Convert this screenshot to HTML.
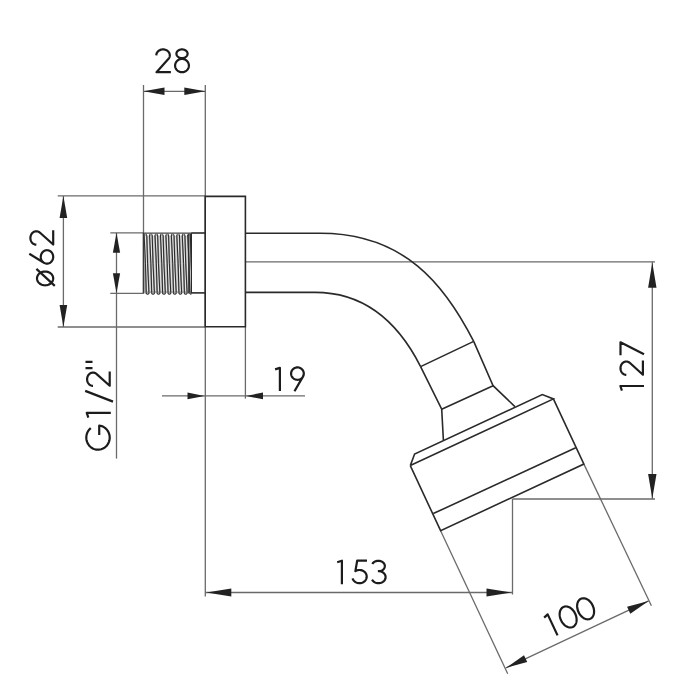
<!DOCTYPE html>
<html><head><meta charset="utf-8"><style>
html,body{margin:0;padding:0;background:#fff;width:700px;height:700px;overflow:hidden}
svg{display:block;filter:grayscale(1)}
</style></head><body>
<svg width="700" height="700" viewBox="0 0 700 700">
<rect width="700" height="700" fill="#fff"/>
<line x1="143.50" y1="85.00" x2="143.50" y2="233.00" stroke="#6a6a6a" stroke-width="1.3"/>
<line x1="205.30" y1="85.00" x2="205.30" y2="596.50" stroke="#6a6a6a" stroke-width="1.3"/>
<line x1="143.50" y1="91.30" x2="205.30" y2="91.30" stroke="#6a6a6a" stroke-width="1.3"/>
<polygon points="143.50,91.30 164.50,87.60 164.50,95.00" fill="#222"/>
<polygon points="205.30,91.30 184.30,95.00 184.30,87.60" fill="#222"/>
<line x1="57.70" y1="195.90" x2="205.30" y2="195.90" stroke="#6a6a6a" stroke-width="1.3"/>
<line x1="57.70" y1="327.00" x2="205.30" y2="327.00" stroke="#6a6a6a" stroke-width="1.3"/>
<line x1="63.40" y1="195.90" x2="63.40" y2="327.00" stroke="#6a6a6a" stroke-width="1.3"/>
<polygon points="63.40,195.90 67.20,217.90 59.60,217.90" fill="#222"/>
<polygon points="63.40,327.00 59.60,305.00 67.20,305.00" fill="#222"/>
<line x1="110.30" y1="232.80" x2="143.50" y2="232.80" stroke="#6a6a6a" stroke-width="1.3"/>
<line x1="110.30" y1="293.30" x2="143.50" y2="293.30" stroke="#6a6a6a" stroke-width="1.3"/>
<line x1="116.50" y1="232.80" x2="116.50" y2="458.60" stroke="#6a6a6a" stroke-width="1.3"/>
<polygon points="116.50,232.80 120.10,252.80 112.90,252.80" fill="#222"/>
<polygon points="116.50,293.30 112.90,273.30 120.10,273.30" fill="#222"/>
<line x1="245.40" y1="327.00" x2="245.40" y2="398.60" stroke="#6a6a6a" stroke-width="1.3"/>
<line x1="162.00" y1="395.90" x2="305.00" y2="395.90" stroke="#6a6a6a" stroke-width="1.3"/>
<polygon points="204.50,395.90 187.50,399.30 187.50,392.50" fill="#222"/>
<polygon points="246.00,395.90 263.00,392.50 263.00,399.30" fill="#222"/>
<line x1="245.40" y1="261.80" x2="655.00" y2="261.80" stroke="#6a6a6a" stroke-width="1.3"/>
<line x1="512.50" y1="499.00" x2="655.00" y2="499.00" stroke="#6a6a6a" stroke-width="1.3"/>
<line x1="652.30" y1="261.80" x2="652.30" y2="499.00" stroke="#6a6a6a" stroke-width="1.3"/>
<polygon points="652.30,262.80 656.50,287.80 648.10,287.80" fill="#222"/>
<polygon points="652.30,498.40 648.10,473.90 656.50,473.90" fill="#222"/>
<line x1="512.50" y1="499.00" x2="512.50" y2="594.50" stroke="#6a6a6a" stroke-width="1.3"/>
<line x1="205.30" y1="592.50" x2="512.50" y2="592.50" stroke="#6a6a6a" stroke-width="1.3"/>
<polygon points="206.30,592.50 231.30,588.50 231.30,596.50" fill="#222"/>
<polygon points="511.50,592.50 486.50,596.50 486.50,588.50" fill="#222"/>
<line x1="440.60" y1="530.70" x2="507.70" y2="673.70" stroke="#6a6a6a" stroke-width="1.3"/>
<line x1="583.90" y1="464.10" x2="651.40" y2="605.70" stroke="#6a6a6a" stroke-width="1.3"/>
<line x1="505.70" y1="668.00" x2="648.60" y2="600.90" stroke="#6a6a6a" stroke-width="1.3"/>
<polygon points="505.70,668.00 524.00,655.21 527.23,662.09" fill="#222"/>
<polygon points="648.60,600.90 630.30,613.69 627.07,606.81" fill="#222"/>
<polygon points="205.20,196.40 245.40,196.40 245.40,326.80 205.20,326.80" fill="none" stroke="#2a2a2a" stroke-width="1.6" stroke-linejoin="miter"/>
<defs><clipPath id="thc"><rect x="143.3" y="231.8" width="48.10" height="64.60"/></clipPath></defs><g clip-path="url(#thc)">
<rect x="143.3" y="232.8" width="48.10" height="60.60" fill="#a2a2a2"/>
<path d="M145.40,235.80 Q146.50,263.10 147.60,291.40 M148.12,236.30 L150.32,291.40 M150.85,235.80 Q151.95,263.10 153.05,291.40 M153.57,236.30 L155.77,291.40 M156.30,235.80 Q157.40,263.10 158.50,291.40 M159.03,236.30 L161.22,291.40 M161.75,235.80 Q162.85,263.10 163.95,291.40 M164.47,236.30 L166.67,291.40 M167.20,235.80 Q168.30,263.10 169.40,291.40 M169.93,236.30 L172.12,291.40 M172.65,235.80 Q173.75,263.10 174.85,291.40 M175.38,236.30 L177.57,291.40 M178.10,235.80 Q179.20,263.10 180.30,291.40 M180.83,236.30 L183.03,291.40 M183.55,235.80 Q184.65,263.10 185.75,291.40 M186.28,236.30 L188.47,291.40 M189.00,235.80 Q190.10,263.10 191.20,291.40" fill="none" stroke="#f2f2f2" stroke-width="0.9"/>
<path d="M144.05,234.00 Q145.76,263.10 146.25,292.80 M146.75,234.00 Q147.24,263.10 148.95,292.80 M149.50,234.00 Q151.21,263.10 151.70,292.80 M152.20,234.00 Q152.69,263.10 154.40,292.80 M154.95,234.00 Q156.66,263.10 157.15,292.80 M157.65,234.00 Q158.14,263.10 159.85,292.80 M160.40,234.00 Q162.11,263.10 162.60,292.80 M163.10,234.00 Q163.59,263.10 165.30,292.80 M165.85,234.00 Q167.56,263.10 168.05,292.80 M168.55,234.00 Q169.04,263.10 170.75,292.80 M171.30,234.00 Q173.01,263.10 173.50,292.80 M174.00,234.00 Q174.49,263.10 176.20,292.80 M176.75,234.00 Q178.46,263.10 178.95,292.80 M179.45,234.00 Q179.94,263.10 181.65,292.80 M182.20,234.00 Q183.91,263.10 184.40,292.80 M184.90,234.00 Q185.39,263.10 187.10,292.80 M187.65,234.00 Q189.36,263.10 189.85,292.80 M190.35,234.00 Q190.84,263.10 192.55,292.80" fill="none" stroke="#2a2a2a" stroke-width="1.0"/>
<path d="M146.30,233.60 L149.95,233.60 L148.12,236.60 Z M148.80,294.29999999999995 Q150.32,291.00 151.85,294.29999999999995 Z M151.75,233.60 L155.40,233.60 L153.57,236.60 Z M154.25,294.29999999999995 Q155.77,291.00 157.30,294.29999999999995 Z M157.20,233.60 L160.85,233.60 L159.03,236.60 Z M159.70,294.29999999999995 Q161.22,291.00 162.75,294.29999999999995 Z M162.65,233.60 L166.30,233.60 L164.47,236.60 Z M165.15,294.29999999999995 Q166.67,291.00 168.20,294.29999999999995 Z M168.10,233.60 L171.75,233.60 L169.93,236.60 Z M170.60,294.29999999999995 Q172.12,291.00 173.65,294.29999999999995 Z M173.55,233.60 L177.20,233.60 L175.38,236.60 Z M176.05,294.29999999999995 Q177.57,291.00 179.10,294.29999999999995 Z M179.00,233.60 L182.65,233.60 L180.83,236.60 Z M181.50,294.29999999999995 Q183.03,291.00 184.55,294.29999999999995 Z M184.45,233.60 L188.10,233.60 L186.28,236.60 Z M186.95,294.29999999999995 Q188.47,291.00 190.00,294.29999999999995 Z" fill="#fff" stroke="none"/>
<path d="M146.00,293.00 Q147.60,295.60 149.20,293.00 M151.45,293.00 Q153.05,295.60 154.65,293.00 M156.90,293.00 Q158.50,295.60 160.10,293.00 M162.35,293.00 Q163.95,295.60 165.55,293.00 M167.80,293.00 Q169.40,295.60 171.00,293.00 M173.25,293.00 Q174.85,295.60 176.45,293.00 M178.70,293.00 Q180.30,295.60 181.90,293.00 M184.15,293.00 Q185.75,295.60 187.35,293.00 M189.60,293.00 Q191.20,295.60 192.80,293.00" fill="none" stroke="#2a2a2a" stroke-width="1.1"/>
</g>
<path d="M143.3,232.8 L143.3,293.4 M188.80,233.8 L188.80,293.4 M191.4,232.8 L191.4,293.4" fill="none" stroke="#2a2a2a" stroke-width="1.2"/>
<path d="M143.3,233.10 L191.4,233.10" fill="none" stroke="#3a3a3a" stroke-width="1.0"/>
<line x1="191.40" y1="233.00" x2="205.30" y2="233.00" stroke="#2a2a2a" stroke-width="1.6"/>
<line x1="191.40" y1="292.90" x2="205.30" y2="292.90" stroke="#2a2a2a" stroke-width="1.6"/>
<path d="M245.4,233.3 L319.95,233.3 C404.46,233.3 444.75,284.61 473.7,341.4" fill="none" stroke="#2a2a2a" stroke-width="1.6"/>
<path d="M245.4,292.4 L315.1,292.4 C354.68,292.4 392.23,310.63 420.6,366.6" fill="none" stroke="#2a2a2a" stroke-width="1.6"/>
<polyline points="420.60,366.60 473.70,341.40" fill="none" stroke="#2a2a2a" stroke-width="1.6" stroke-linejoin="miter"/>
<polyline points="420.60,366.60 441.70,409.20 443.40,440.20" fill="none" stroke="#2a2a2a" stroke-width="1.6" stroke-linejoin="miter"/>
<polyline points="473.70,341.40 493.10,385.70 514.90,406.60" fill="none" stroke="#2a2a2a" stroke-width="1.6" stroke-linejoin="miter"/>
<polyline points="441.70,409.20 493.10,385.70" fill="none" stroke="#2a2a2a" stroke-width="1.6" stroke-linejoin="miter"/>
<polyline points="410.30,465.60 414.60,454.00 542.30,394.60 553.40,398.90 410.30,465.60" fill="none" stroke="#2a2a2a" stroke-width="1.6" stroke-linejoin="miter"/>
<polyline points="553.40,398.90 583.90,464.10 440.60,530.70 410.30,465.60" fill="none" stroke="#2a2a2a" stroke-width="1.6" stroke-linejoin="miter"/>
<polyline points="433.30,513.60 575.70,447.70" fill="none" stroke="#2a2a2a" stroke-width="1.6" stroke-linejoin="miter"/>
<path d="M156.30,55.33 L156.34,54.70 L156.45,54.08 L156.64,53.47 L156.90,52.89 L157.23,52.33 L157.62,51.80 L158.08,51.32 L158.59,50.88 L159.15,50.49 L159.76,50.15 L160.40,49.87 L161.08,49.66 L161.77,49.51 L162.48,49.42 L163.20,49.40 L163.91,49.45 L164.62,49.56 L165.30,49.74 L165.96,49.98 L166.59,50.28 L167.18,50.64 L167.72,51.05 L168.21,51.51 L168.65,52.01 L169.01,52.55 L169.32,53.12 L169.55,53.72 L169.70,54.33 L169.79,54.96 L169.79,55.59 L169.72,56.21 L169.58,56.83 L169.36,57.43 L169.07,58.00 L168.72,58.55 L168.30,59.06 L156.50,72.20 L170.90,72.20 M187.59,53.73 L187.56,54.18 L187.47,54.63 L187.32,55.07 L187.11,55.49 L186.84,55.90 L186.52,56.28 L186.15,56.63 L185.74,56.95 L185.29,57.24 L184.79,57.48 L184.27,57.69 L183.73,57.85 L183.16,57.97 L182.58,58.04 L182.00,58.06 L181.42,58.04 L180.84,57.97 L180.27,57.85 L179.73,57.69 L179.21,57.48 L178.71,57.24 L178.26,56.95 L177.85,56.63 L177.48,56.28 L177.16,55.90 L176.89,55.49 L176.68,55.07 L176.53,54.63 L176.44,54.18 L176.41,53.73 L176.44,53.28 L176.53,52.83 L176.68,52.39 L176.89,51.97 L177.16,51.57 L177.48,51.19 L177.85,50.83 L178.26,50.51 L178.71,50.23 L179.21,49.98 L179.73,49.77 L180.27,49.61 L180.84,49.49 L181.42,49.42 L182.00,49.40 L182.58,49.42 L183.16,49.49 L183.73,49.61 L184.27,49.77 L184.79,49.98 L185.29,50.23 L185.74,50.51 L186.15,50.83 L186.52,51.19 L186.84,51.57 L187.11,51.97 L187.32,52.39 L187.47,52.83 L187.56,53.28 L187.59,53.73 Z M188.90,65.59 L188.86,66.28 L188.75,66.96 L188.56,67.63 L188.30,68.28 L187.98,68.89 L187.58,69.47 L187.13,70.01 L186.62,70.50 L186.06,70.94 L185.45,71.31 L184.81,71.63 L184.13,71.88 L183.43,72.06 L182.72,72.16 L182.00,72.20 L181.28,72.16 L180.57,72.06 L179.87,71.88 L179.19,71.63 L178.55,71.31 L177.94,70.94 L177.38,70.50 L176.87,70.01 L176.42,69.47 L176.02,68.89 L175.70,68.28 L175.44,67.63 L175.25,66.96 L175.14,66.28 L175.10,65.59 L175.14,64.90 L175.25,64.21 L175.44,63.54 L175.70,62.90 L176.02,62.28 L176.42,61.70 L176.87,61.16 L177.38,60.67 L177.94,60.24 L178.55,59.86 L179.19,59.55 L179.87,59.30 L180.57,59.12 L181.28,59.01 L182.00,58.98 L182.72,59.01 L183.43,59.12 L184.13,59.30 L184.81,59.55 L185.45,59.86 L186.06,60.24 L186.62,60.67 L187.13,61.16 L187.58,61.70 L187.98,62.28 L188.30,62.90 L188.56,63.54 L188.75,64.21 L188.86,64.90 L188.90,65.59 Z " fill="none" stroke="#1c1c1c" stroke-width="2.2" stroke-linejoin="round" stroke-linecap="butt"/>
<path d="M275.10,369.38 L279.90,367.87 L279.90,391.10 M302.97,376.66 L302.62,377.21 L302.20,377.72 L301.73,378.18 L301.22,378.59 L300.67,378.95 L300.08,379.25 L299.46,379.49 L298.82,379.66 L298.16,379.76 L297.50,379.80 L296.83,379.77 L296.18,379.68 L295.53,379.51 L294.91,379.29 L294.32,379.00 L293.76,378.65 L293.24,378.24 L292.76,377.79 L292.34,377.28 L291.97,376.74 L291.67,376.17 L291.43,375.56 L291.25,374.94 L291.14,374.30 L291.10,373.65 L291.13,373.00 L291.23,372.36 L291.40,371.73 L291.63,371.12 L291.93,370.54 L292.28,369.99 L292.70,369.49 L293.17,369.02 L293.68,368.61 L294.23,368.25 L294.82,367.96 L295.44,367.72 L296.08,367.55 L296.74,367.44 L297.40,367.40 L298.07,367.43 L298.72,367.53 L299.37,367.69 L299.99,367.92 L300.58,368.21 L301.14,368.56 L301.66,368.96 L302.14,369.42 L302.56,369.92 L302.93,370.46 L303.23,371.04 L303.47,371.64 L303.65,372.27 L303.76,372.91 L303.80,373.55 L303.77,374.20 L303.67,374.85 L303.50,375.47 L303.27,376.08 L302.97,376.66 Z M302.97,376.66 L294.47,391.30 " fill="none" stroke="#1c1c1c" stroke-width="2.2" stroke-linejoin="round" stroke-linecap="butt"/>
<path d="M337.20,562.22 L341.90,560.67 L341.90,584.30 M366.97,560.70 L357.18,560.70 L355.37,571.18 L355.37,571.18 L356.01,570.81 L356.70,570.51 L357.41,570.27 L358.15,570.10 L358.90,570.01 L359.66,569.99 L360.41,570.04 L361.16,570.17 L361.89,570.36 L362.59,570.63 L363.26,570.96 L363.88,571.35 L364.46,571.80 L364.98,572.31 L365.44,572.86 L365.84,573.46 L366.16,574.09 L366.41,574.74 L366.59,575.42 L366.68,576.11 L366.70,576.81 L366.63,577.50 L366.49,578.19 L366.27,578.85 L365.97,579.49 L365.60,580.10 L365.16,580.67 L364.66,581.20 L364.11,581.67 L363.50,582.09 L362.85,582.44 L362.16,582.73 L361.44,582.96 L360.70,583.11 L359.94,583.19 L359.19,583.19 L358.43,583.13 L357.69,582.99 L356.96,582.78 L356.27,582.50 L355.61,582.15 L354.99,581.75 L354.43,581.28 L353.92,580.77 L353.47,580.20 L353.09,579.60 L352.78,578.97 L352.55,578.30 M372.36,564.01 L372.66,563.51 L373.02,563.04 L373.45,562.60 L373.92,562.20 L374.45,561.85 L375.02,561.54 L375.63,561.28 L376.27,561.07 L376.93,560.93 L377.60,560.83 L378.29,560.80 L378.97,560.83 L379.65,560.91 L380.32,561.05 L380.96,561.25 L381.57,561.50 L382.15,561.80 L382.68,562.15 L383.17,562.54 L383.60,562.97 L383.97,563.44 L384.28,563.93 L384.53,564.45 L384.70,564.99 L384.81,565.54 L384.84,566.09 L384.80,566.65 L384.69,567.19 L384.51,567.73 L384.25,568.25 L383.94,568.74 L383.56,569.20 L383.12,569.63 L382.63,570.02 L382.09,570.36 L381.51,570.66 L380.90,570.90 L380.25,571.10 L379.59,571.23 L378.91,571.31 M377.87,571.13 L378.63,571.11 L379.38,571.15 L380.13,571.27 L380.85,571.45 L381.55,571.69 L382.21,572.00 L382.84,572.37 L383.41,572.79 L383.93,573.25 L384.38,573.77 L384.77,574.32 L385.09,574.90 L385.33,575.51 L385.50,576.14 L385.59,576.78 L385.59,577.42 L385.52,578.06 L385.37,578.69 L385.13,579.30 L384.83,579.89 L384.45,580.45 L384.00,580.97 L383.50,581.45 L382.93,581.87 L382.32,582.25 L381.66,582.57 L380.97,582.82 L380.24,583.01 L379.50,583.14 L378.75,583.20 L377.99,583.19 L377.24,583.11 L376.51,582.96 L375.79,582.75 L375.11,582.47 L374.46,582.14 L373.87,581.74 L373.32,581.30 L372.83,580.81 L372.41,580.28 L372.05,579.71 " fill="none" stroke="#1c1c1c" stroke-width="2.2" stroke-linejoin="round" stroke-linecap="butt"/>
<path transform="translate(619.2,391.0) rotate(-90)" d="M0.40,2.72 L5.00,1.17 L5.00,24.80 M16.10,7.12 L16.14,6.51 L16.25,5.90 L16.44,5.30 L16.70,4.72 L17.02,4.18 L17.41,3.66 L17.87,3.18 L18.38,2.75 L18.93,2.37 L19.53,2.04 L20.17,1.77 L20.84,1.55 L21.53,1.41 L22.24,1.32 L22.95,1.30 L23.66,1.35 L24.35,1.46 L25.04,1.63 L25.69,1.87 L26.32,2.17 L26.90,2.52 L27.44,2.92 L27.93,3.37 L28.35,3.87 L28.72,4.40 L29.02,4.96 L29.25,5.54 L29.40,6.15 L29.49,6.76 L29.49,7.38 L29.42,7.99 L29.28,8.60 L29.07,9.19 L28.78,9.75 L28.42,10.29 L28.01,10.79 L16.30,23.70 L30.60,23.70 M35.70,1.30 L48.70,1.30 L36.83,24.80 " fill="none" stroke="#1c1c1c" stroke-width="2.2" stroke-linejoin="round" stroke-linecap="butt"/>
<path transform="translate(29.3,288.4) rotate(-90)" d="M16.90,15.80 L16.86,16.65 L16.75,17.48 L16.56,18.30 L16.30,19.09 L15.98,19.85 L15.58,20.56 L15.13,21.22 L14.62,21.82 L14.06,22.35 L13.45,22.81 L12.81,23.20 L12.13,23.50 L11.43,23.72 L10.72,23.86 L10.00,23.90 L9.28,23.86 L8.57,23.72 L7.87,23.50 L7.19,23.20 L6.55,22.81 L5.94,22.35 L5.38,21.82 L4.87,21.22 L4.42,20.56 L4.02,19.85 L3.70,19.09 L3.44,18.30 L3.25,17.48 L3.14,16.65 L3.10,15.80 L3.14,14.95 L3.25,14.12 L3.44,13.30 L3.70,12.51 L4.02,11.75 L4.42,11.04 L4.87,10.38 L5.38,9.78 L5.94,9.25 L6.55,8.79 L7.19,8.40 L7.87,8.10 L8.57,7.88 L9.28,7.74 L10.00,7.70 L10.72,7.74 L11.43,7.88 L12.13,8.10 L12.81,8.40 L13.45,8.79 L14.06,9.25 L14.62,9.78 L15.13,10.38 L15.58,11.04 L15.98,11.75 L16.30,12.51 L16.56,13.30 L16.75,14.12 L16.86,14.95 L16.90,15.80 Z M25.67,14.64 L26.05,14.10 L26.48,13.59 L26.97,13.13 L27.51,12.71 L28.10,12.35 L28.72,12.06 L29.37,11.82 L30.05,11.64 L30.74,11.54 L31.44,11.50 L32.14,11.53 L32.84,11.62 L33.51,11.78 L34.17,12.01 L34.80,12.30 L35.39,12.65 L35.94,13.05 L36.44,13.51 L36.89,14.01 L37.27,14.55 L37.60,15.13 L37.85,15.73 L38.04,16.36 L38.16,17.00 L38.20,17.64 L38.17,18.29 L38.07,18.93 L37.89,19.56 L37.64,20.17 L37.33,20.75 L36.95,21.30 L36.52,21.81 L36.03,22.27 L35.49,22.68 L34.90,23.04 L34.28,23.34 L33.63,23.58 L32.95,23.75 L32.26,23.86 L31.56,23.90 L30.86,23.87 L30.16,23.78 L29.49,23.61 L28.83,23.39 L28.20,23.10 L27.61,22.75 L27.06,22.34 L26.56,21.89 L26.11,21.39 L25.73,20.85 L25.40,20.27 L25.15,19.67 L24.96,19.04 L24.84,18.40 L24.80,17.75 L24.83,17.10 L24.93,16.46 L25.11,15.83 L25.36,15.23 L25.67,14.64 Z M25.67,14.64 L34.62,0.00 M43.70,7.03 L43.74,6.40 L43.85,5.78 L44.04,5.17 L44.30,4.59 L44.62,4.03 L45.01,3.50 L45.47,3.02 L45.98,2.58 L46.53,2.19 L47.13,1.85 L47.77,1.57 L48.44,1.36 L49.13,1.21 L49.84,1.12 L50.55,1.10 L51.26,1.15 L51.95,1.26 L52.64,1.44 L53.29,1.68 L53.92,1.98 L54.50,2.34 L55.04,2.75 L55.53,3.21 L55.95,3.71 L56.32,4.25 L56.62,4.82 L56.85,5.42 L57.00,6.03 L57.09,6.66 L57.09,7.29 L57.02,7.91 L56.88,8.53 L56.67,9.13 L56.38,9.70 L56.02,10.25 L55.61,10.76 L43.90,23.90 L58.20,23.90 M2.50,25.50 L19.50,7.10" fill="none" stroke="#1c1c1c" stroke-width="2.2" stroke-linejoin="round" stroke-linecap="butt"/>
<path transform="translate(85.2,451) rotate(-90)" d="M22.93,5.60 L22.09,4.66 L21.15,3.82 L20.13,3.07 L19.02,2.44 L17.86,1.92 L16.64,1.53 L15.39,1.26 L14.11,1.12 L12.83,1.11 L11.56,1.24 L10.30,1.49 L9.08,1.87 L7.91,2.38 L6.80,3.00 L5.76,3.73 L4.81,4.56 L3.96,5.49 L3.21,6.49 L2.57,7.57 L2.06,8.71 L1.68,9.89 L1.43,11.11 L1.31,12.34 L1.33,13.58 L1.48,14.82 L1.77,16.02 L2.19,17.20 L2.73,18.32 L3.40,19.38 L4.17,20.37 L5.05,21.27 L6.03,22.08 L7.08,22.78 L8.21,23.37 L9.40,23.84 L10.63,24.19 L11.89,24.41 L13.17,24.50 L14.45,24.46 L15.72,24.28 L16.97,23.98 L18.17,23.55 L19.32,23.00 L20.41,22.34 L21.41,21.57 L22.33,20.70 L23.14,19.74 L23.85,18.70 L24.43,17.60 L24.90,16.45 L25.23,15.25 L25.43,14.02 L16.04,14.02 M33.30,3.16 L38.10,1.57 L38.10,25.60 M49.40,27.80 L60.10,0.00 M65.10,7.78 L65.14,7.15 L65.25,6.54 L65.43,5.94 L65.69,5.35 L66.02,4.80 L66.40,4.28 L66.85,3.80 L67.36,3.36 L67.91,2.98 L68.51,2.65 L69.14,2.37 L69.81,2.16 L70.49,2.01 L71.19,1.92 L71.90,1.90 L72.60,1.95 L73.29,2.06 L73.97,2.24 L74.62,2.48 L75.24,2.77 L75.82,3.13 L76.36,3.54 L76.84,3.99 L77.26,4.49 L77.63,5.02 L77.92,5.59 L78.15,6.18 L78.31,6.79 L78.39,7.41 L78.39,8.03 L78.33,8.65 L78.18,9.26 L77.97,9.86 L77.68,10.43 L77.33,10.97 L76.92,11.47 L65.30,24.50 L79.50,24.50 M82.90,0.30 L82.90,7.30 M89.10,0.30 L89.10,7.30 " fill="none" stroke="#1c1c1c" stroke-width="2.2" stroke-linejoin="round" stroke-linecap="butt"/>
<path transform="translate(505.7,668) rotate(-25.15)" d="M56.20,-29.22 L60.80,-30.73 L60.80,-7.50 M86.00,-19.65 L85.96,-18.49 L85.83,-17.35 L85.62,-16.24 L85.33,-15.16 L84.95,-14.12 L84.51,-13.15 L84.00,-12.26 L83.42,-11.44 L82.78,-10.71 L82.10,-10.08 L81.37,-9.56 L80.61,-9.14 L79.82,-8.84 L79.02,-8.66 L78.20,-8.60 L77.38,-8.66 L76.58,-8.84 L75.79,-9.14 L75.03,-9.56 L74.30,-10.08 L73.62,-10.71 L72.98,-11.44 L72.40,-12.26 L71.89,-13.15 L71.45,-14.12 L71.07,-15.16 L70.78,-16.24 L70.57,-17.35 L70.44,-18.49 L70.40,-19.65 L70.44,-20.81 L70.57,-21.95 L70.78,-23.06 L71.07,-24.14 L71.45,-25.18 L71.89,-26.15 L72.40,-27.04 L72.98,-27.86 L73.62,-28.59 L74.30,-29.22 L75.03,-29.74 L75.79,-30.16 L76.58,-30.46 L77.38,-30.64 L78.20,-30.70 L79.02,-30.64 L79.82,-30.46 L80.61,-30.16 L81.37,-29.74 L82.10,-29.22 L82.78,-28.59 L83.42,-27.86 L84.00,-27.04 L84.51,-26.15 L84.95,-25.18 L85.33,-24.14 L85.62,-23.06 L85.83,-21.95 L85.96,-20.81 L86.00,-19.65 Z M105.30,-19.65 L105.26,-18.49 L105.13,-17.35 L104.92,-16.24 L104.63,-15.16 L104.25,-14.12 L103.81,-13.15 L103.30,-12.26 L102.72,-11.44 L102.08,-10.71 L101.40,-10.08 L100.67,-9.56 L99.91,-9.14 L99.12,-8.84 L98.32,-8.66 L97.50,-8.60 L96.68,-8.66 L95.88,-8.84 L95.09,-9.14 L94.33,-9.56 L93.60,-10.08 L92.92,-10.71 L92.28,-11.44 L91.70,-12.26 L91.19,-13.15 L90.75,-14.12 L90.37,-15.16 L90.08,-16.24 L89.87,-17.35 L89.74,-18.49 L89.70,-19.65 L89.74,-20.81 L89.87,-21.95 L90.08,-23.06 L90.37,-24.14 L90.75,-25.18 L91.19,-26.15 L91.70,-27.04 L92.28,-27.86 L92.92,-28.59 L93.60,-29.22 L94.33,-29.74 L95.09,-30.16 L95.88,-30.46 L96.68,-30.64 L97.50,-30.70 L98.32,-30.64 L99.12,-30.46 L99.91,-30.16 L100.67,-29.74 L101.40,-29.22 L102.08,-28.59 L102.72,-27.86 L103.30,-27.04 L103.81,-26.15 L104.25,-25.18 L104.63,-24.14 L104.92,-23.06 L105.13,-21.95 L105.26,-20.81 L105.30,-19.65 Z " fill="none" stroke="#1c1c1c" stroke-width="2.2" stroke-linejoin="round" stroke-linecap="butt"/>
</svg></body></html>
